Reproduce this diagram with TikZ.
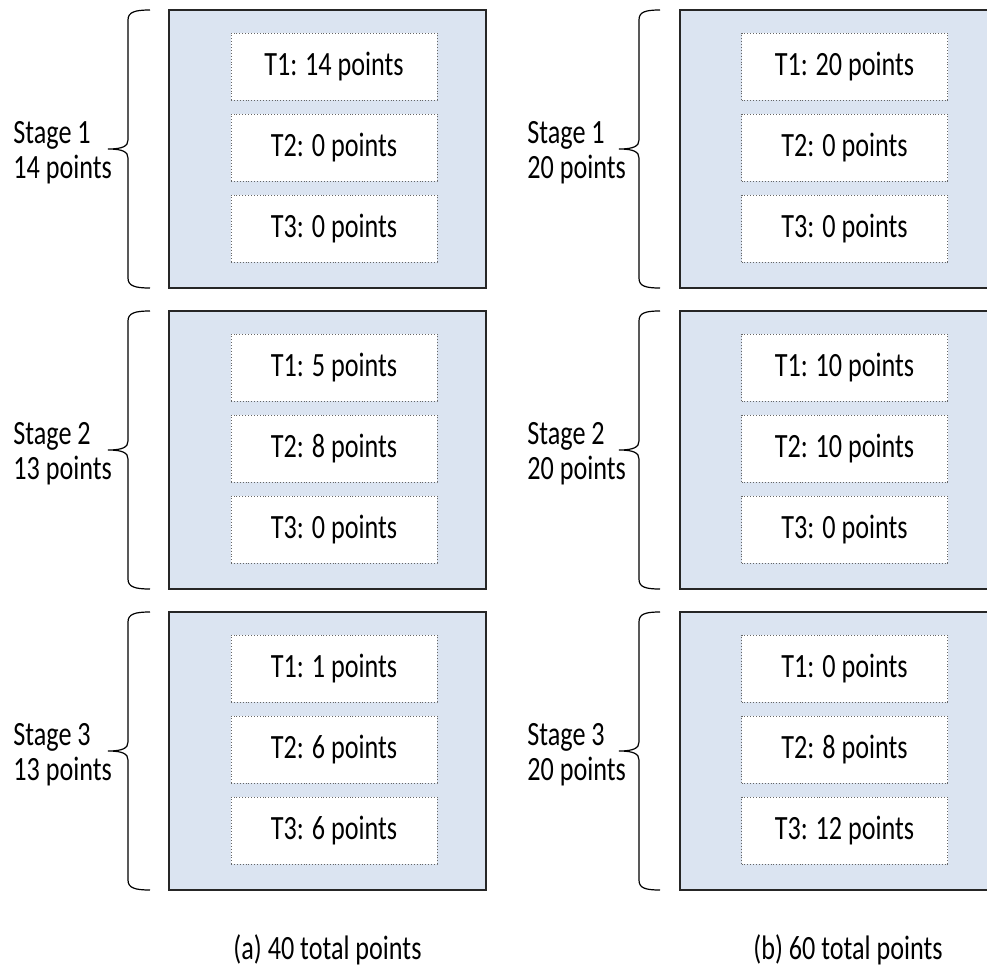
\documentclass[tikz,border=0pt]{standalone}
\usepackage{fontspec}
\setmainfont{Carlito}[FakeStretch=0.77]
\definecolor{stagefill}{HTML}{DBE4F1}
\tikzset{
  stagebox/.style={draw=black!85, line width=0.6pt, fill=stagefill, minimum width=158.5pt, minimum height=139pt, inner sep=0pt},
  taskbox/.style={draw=black!60, densely dotted, line width=0.45pt, fill=white, minimum width=103pt, minimum height=33.5pt, inner sep=0pt},
  stagelabel/.style={anchor=west, align=left, inner sep=0pt},
  bracket/.style={black, line width=0.6pt}
}
\begin{document}
\begin{tikzpicture}[x=0.5pt, y=-0.5pt, font=\fontsize{17pt}{17.5pt}\selectfont]
\useasboundingbox (0,0) rectangle (987,975);
\clip (0,0) rectangle (987,975);
% (a) 40 total points
\node[stagebox] (sa1) at (327.5,149) {};
\node[taskbox] (ta11) at (334,66.5) {T1: 14 points};
\node[taskbox] (ta12) at (334,147.5) {T2: 0 points};
\node[taskbox] (ta13) at (334,228.5) {T3: 0 points};
\draw[bracket] (150,10) .. controls (135,10) and (128,12) .. (128,20) -- (128,140) .. controls (128,146) and (123,149) .. (108,149) .. controls (123,149) and (128,152) .. (128,158) -- (128,278) .. controls (128,286) and (135,288) .. (150,288);
\node[stagelabel] (la1) at (13,153) {Stage 1\\14 points};
\node[stagebox] (sa2) at (327.5,450) {};
\node[taskbox] (ta21) at (334,367.5) {T1: 5 points};
\node[taskbox] (ta22) at (334,448.5) {T2: 8 points};
\node[taskbox] (ta23) at (334,529.5) {T3: 0 points};
\draw[bracket] (150,311) .. controls (135,311) and (128,313) .. (128,321) -- (128,441) .. controls (128,447) and (123,450) .. (108,450) .. controls (123,450) and (128,453) .. (128,459) -- (128,579) .. controls (128,587) and (135,589) .. (150,589);
\node[stagelabel] (la2) at (13,454) {Stage 2\\13 points};
\node[stagebox] (sa3) at (327.5,751) {};
\node[taskbox] (ta31) at (334,668.5) {T1: 1 points};
\node[taskbox] (ta32) at (334,749.5) {T2: 6 points};
\node[taskbox] (ta33) at (334,830.5) {T3: 6 points};
\draw[bracket] (150,612) .. controls (135,612) and (128,614) .. (128,622) -- (128,742) .. controls (128,748) and (123,751) .. (108,751) .. controls (123,751) and (128,754) .. (128,760) -- (128,880) .. controls (128,888) and (135,890) .. (150,890);
\node[stagelabel] (la3) at (13,755) {Stage 3\\13 points};
\node[anchor=base] (capa) at (327.5,959) {(a) 40 total points};
% (b) 60 total points
\node[stagebox] (sb1) at (838.5,149) {};
\node[taskbox] (tb11) at (844.5,66.5) {T1: 20 points};
\node[taskbox] (tb12) at (844.5,147.5) {T2: 0 points};
\node[taskbox] (tb13) at (844.5,228.5) {T3: 0 points};
\draw[bracket] (660,10) .. controls (645,10) and (639,12) .. (639,20) -- (639,140) .. controls (639,146) and (634,149) .. (619,149) .. controls (634,149) and (639,152) .. (639,158) -- (639,278) .. controls (639,286) and (645,288) .. (660,288);
\node[stagelabel] (lb1) at (527,153) {Stage 1\\20 points};
\node[stagebox] (sb2) at (838.5,450) {};
\node[taskbox] (tb21) at (844.5,367.5) {T1: 10 points};
\node[taskbox] (tb22) at (844.5,448.5) {T2: 10 points};
\node[taskbox] (tb23) at (844.5,529.5) {T3: 0 points};
\draw[bracket] (660,311) .. controls (645,311) and (639,313) .. (639,321) -- (639,441) .. controls (639,447) and (634,450) .. (619,450) .. controls (634,450) and (639,453) .. (639,459) -- (639,579) .. controls (639,587) and (645,589) .. (660,589);
\node[stagelabel] (lb2) at (527,454) {Stage 2\\20 points};
\node[stagebox] (sb3) at (838.5,751) {};
\node[taskbox] (tb31) at (844.5,668.5) {T1: 0 points};
\node[taskbox] (tb32) at (844.5,749.5) {T2: 8 points};
\node[taskbox] (tb33) at (844.5,830.5) {T3: 12 points};
\draw[bracket] (660,612) .. controls (645,612) and (639,614) .. (639,622) -- (639,742) .. controls (639,748) and (634,751) .. (619,751) .. controls (634,751) and (639,754) .. (639,760) -- (639,880) .. controls (639,888) and (645,890) .. (660,890);
\node[stagelabel] (lb3) at (527,755) {Stage 3\\20 points};
\node[anchor=base] (capb) at (848,959) {(b) 60 total points};
\end{tikzpicture}
\end{document}
